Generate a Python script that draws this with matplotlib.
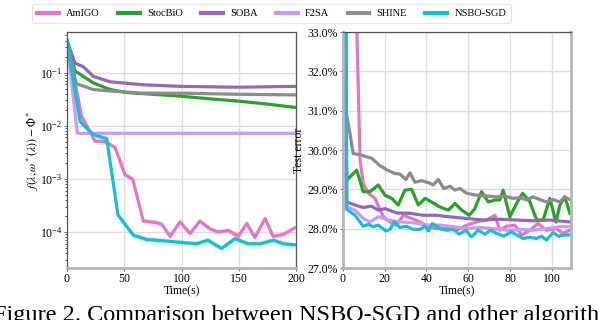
import numpy as np
import matplotlib
matplotlib.use("Agg")
import matplotlib.pyplot as plt
from matplotlib.ticker import FuncFormatter, FixedLocator, LogLocator, NullFormatter

plt.rcParams['font.family'] = ['Liberation Serif', 'DejaVu Serif']
plt.rcParams['mathtext.fontset'] = 'stix'

names = ["AmIGO", "StocBiO", "SOBA", "F2SA", "SHINE", "NSBO-SGD"]
colors = ["#e377c2", "#2ca02c", "#9467bd", "#c89bf7", "#8c8c8c", "#17becf"]

# ---- left panel: f(lambda, omega*(lambda)) - Phi* vs time ----
L_amigo_t = [0, 12.8, 24.5, 33, 42, 50.6, 57.4, 66.7, 78, 82.7, 90, 98.7, 107.4, 116, 125, 132, 141, 149.6, 157, 164, 173, 180, 189, 199]
L_amigo_v = [0.4, 0.015, 0.0051, 0.005, 0.0039, 0.0012, 0.00098, 0.00016, 0.00015, 0.00014, 0.000083, 0.000155, 0.000094, 0.00016, 0.000114, 0.0001, 0.000107, 0.000083, 0.000145, 0.000079, 0.00018, 0.000083, 0.00009, 0.00012]
L_stoc_t = [0, 7, 23, 37.6, 52, 75, 98.7, 125, 150, 175, 200]
L_stoc_v = [0.4, 0.107, 0.064, 0.048, 0.042, 0.039, 0.036, 0.032, 0.029, 0.0255, 0.022]
L_soba_t = [0, 7, 14, 23, 37.6, 66, 98.7, 150, 200]
L_soba_v = [0.4, 0.15, 0.13, 0.085, 0.067, 0.059, 0.055, 0.053, 0.055]
L_f2sa_t = [0, 9, 200]
L_f2sa_v = [0.4, 0.0072, 0.0072]
L_shine_t = [0, 8, 23, 37.6, 66, 100, 150, 200]
L_shine_v = [0.4, 0.062, 0.048, 0.045, 0.041, 0.041, 0.039, 0.038]
L_nsbo_t = [0, 11.4, 23, 34.7, 44.5, 57.9, 69.6, 78, 98.7, 113, 123, 135, 146.7, 158, 168.6, 180, 189, 200]
L_nsbo_v = [0.4, 0.012, 0.0068, 0.0057, 0.00021, 0.000087, 0.000072, 0.00007, 0.000064, 0.00006, 0.00007, 0.000049, 0.000075, 0.00006, 0.00006, 0.00007, 0.00006, 0.000057]

# ---- right panel: test error (%) vs time ----
R_amigo_t = [0, 5.0, 8.3, 9.8, 12.2, 15.4, 19.4, 22.6, 25.8, 28.9, 32.9, 36.9, 40.9, 44.8, 49.6, 54.4, 59.2, 63.9, 68.7, 72.7, 75, 78.2, 82.2, 85.4, 89.4, 93.3, 97.3, 102.1, 105.2, 108.5]
R_amigo_v = [45, 36.8, 29.74, 29.15, 28.9, 28.77, 28.3, 28.17, 28.09, 28.34, 28.26, 28.17, 28.05, 28.0, 28.03, 27.96, 28.09, 28.17, 28.22, 28.34, 27.96, 28.06, 28.09, 27.84, 27.96, 28.13, 27.96, 28.0, 27.88, 27.96]
R_stoc_t = [0, 1.9, 4.3, 6.7, 9.8, 13, 17, 20.2, 23.4, 26.5, 29.7, 32.9, 36.1, 39.3, 42.4, 46.4, 50.4, 53.6, 56.8, 60.4, 63.1, 66.3, 69.5, 72.7, 75, 76.6, 79.8, 83, 85.9, 89.4, 92.6, 95.7, 98.9, 101.8, 103.7, 106, 108.5]
R_stoc_v = [45, 29.23, 29.36, 29.49, 28.94, 28.94, 29.11, 28.85, 28.77, 28.6, 28.98, 29.0, 28.6, 28.77, 28.68, 28.55, 28.47, 28.64, 28.47, 28.34, 28.51, 28.94, 28.68, 28.73, 28.73, 28.98, 28.3, 28.64, 28.9, 28.68, 28.22, 28.22, 28.77, 28.17, 28.6, 28.81, 28.39]
R_soba_t = [0, 1.9, 5.9, 9.8, 13.8, 17, 20.2, 25.8, 32.1, 38.5, 44.8, 51.2, 59.2, 67.1, 75, 83, 91, 99, 108.5]
R_soba_v = [45, 28.68, 28.6, 28.54, 28.57, 28.47, 28.51, 28.4, 28.39, 28.34, 28.34, 28.3, 28.26, 28.22, 28.24, 28.22, 28.2, 28.22, 28.17]
R_f2sa_t = [0, 1.9, 5.9, 9.8, 13, 17, 21.8, 27.3, 33.7, 40.1, 46.4, 52.8, 59.2, 65.5, 71.9, 78.2, 84.6, 90.9, 97.3, 103.7, 108.5]
R_f2sa_v = [45, 28.56, 28.47, 28.26, 28.17, 28.3, 28.22, 28.17, 28.15, 28.09, 28.09, 28.05, 28.0, 28.03, 28.0, 27.96, 27.98, 27.96, 28.0, 28.05, 28.05]
R_shine_t = [0, 1.5, 3.2, 5, 9, 13.8, 17.8, 21.3, 25, 27.3, 30.2, 32.1, 34.5, 37.7, 40.9, 43.2, 45.6, 48.3, 51.2, 53.6, 56, 59.2, 63.9, 68.7, 73.5, 77.4, 81.4, 84.6, 87.8, 90.9, 94.1, 97.3, 100.5, 103.7, 106, 108.8]
R_shine_v = [45, 31.0, 30.51, 29.91, 29.87, 29.79, 29.6, 29.49, 29.4, 29.39, 29.25, 29.42, 29.18, 29.22, 29.17, 29.11, 29.25, 29.02, 29.08, 28.98, 29.02, 28.9, 28.85, 28.83, 28.81, 28.83, 28.77, 28.79, 28.73, 28.81, 28.74, 28.68, 28.74, 28.68, 28.81, 28.73]
R_nsbo_t = [0, 1.9, 5.9, 9.8, 12.2, 14.6, 17, 20.7, 22.6, 24.5, 27.3, 30.5, 33.7, 36.9, 39.3, 40.9, 42.9, 46.4, 49.6, 52.8, 55.6, 58.8, 61.5, 64.7, 67.9, 70.6, 73.5, 76.9, 80.6, 83, 86.2, 89.4, 92.6, 94.9, 97.3, 100.5, 102.9, 106, 108.5]
R_nsbo_v = [60, 28.49, 28.34, 28.06, 28.11, 28.05, 28.09, 27.94, 27.98, 28.17, 28.03, 28.06, 27.98, 27.98, 28.06, 27.94, 28.13, 28.0, 27.96, 27.98, 27.86, 27.96, 27.79, 27.96, 27.86, 27.96, 27.88, 27.81, 27.92, 27.84, 27.75, 27.78, 27.75, 27.81, 27.71, 27.9, 27.81, 27.84, 27.84]

caption = "Figure 2. Comparison between NSBO-SGD and other algorithms"

left_series = [(L_amigo_t, L_amigo_v), (L_stoc_t, L_stoc_v), (L_soba_t, L_soba_v),
               (L_f2sa_t, L_f2sa_v), (L_shine_t, L_shine_v), (L_nsbo_t, L_nsbo_v)]
right_series = [(R_amigo_t, R_amigo_v), (R_stoc_t, R_stoc_v), (R_soba_t, R_soba_v),
                (R_f2sa_t, R_f2sa_v), (R_shine_t, R_shine_v), (R_nsbo_t, R_nsbo_v)]

fig = plt.figure(figsize=(5.98, 3.2), dpi=100)
axL = fig.add_axes([67/598, 1-268/320, (296-67)/598, 236/320])
axR = fig.add_axes([342.7/598, 1-268/320, (571-342.7)/598, 236/320])

LW = 2.3
handles = []
for (t, v), c, n in zip(left_series, colors, names):
    h, = axL.plot(t, v, color=c, lw=LW, label=n)
    handles.append(h)
    if n in ("AmIGO", "NSBO-SGD"):
        v = np.array(v)
        axL.fill_between(t, v*0.88, v*1.14, color=c, alpha=0.2, lw=0)

for (t, v), c, n in zip(right_series, colors, names):
    axR.plot(t, v, color=c, lw=LW, label=n)

FS = 8.5
# left axis style
axL.set_yscale('log')
axL.set_xlim(0, 200)
axL.set_ylim(2.1e-5, 0.58)
axL.set_xticks([0, 50, 100, 150, 200])
axL.yaxis.set_major_locator(FixedLocator([1e-4, 1e-3, 1e-2, 1e-1]))
axL.yaxis.set_minor_locator(LogLocator(base=10, subs=np.arange(2, 10)))
axL.yaxis.set_minor_formatter(NullFormatter())
axL.set_xlabel("Time(s)", fontsize=FS, labelpad=0)
axL.set_ylabel(r"$f(\lambda,\omega^*(\lambda))-\Phi^*$", fontsize=8.5, labelpad=0)

# right axis style
axR.set_xlim(0, 109)
axR.set_ylim(27, 33)
axR.set_xticks([0, 20, 40, 60, 80, 100])
axR.set_yticks([27, 28, 29, 30, 31, 32, 33])
axR.yaxis.set_major_formatter(FuncFormatter(lambda y, p: f"{y:.1f}%"))
axR.set_xlabel("Time(s)", fontsize=FS, labelpad=0)
axR.set_ylabel("Test error", fontsize=FS, labelpad=2)

for ax in (axL, axR):
    ax.grid(True, color='#dedede', lw=1.0)
    ax.set_axisbelow(True)
    ax.tick_params(labelsize=FS, length=2, width=0.6, color='#555555', pad=1.5)
    ax.tick_params(which='minor', length=1.5, width=0.5)
    ax.spines['top'].set_color('#555555')
    ax.spines['top'].set_linewidth(0.9)
    ax.spines['bottom'].set_color('#b5b5b5')
    ax.spines['bottom'].set_linewidth(2.0)

axL.spines['left'].set_color('#555555'); axL.spines['left'].set_linewidth(0.9)
axL.spines['right'].set_color('#555555'); axL.spines['right'].set_linewidth(0.9)
axR.spines['left'].set_color('#b5b5b5'); axR.spines['left'].set_linewidth(2.0)
axR.spines['right'].set_color('#b5b5b5'); axR.spines['right'].set_linewidth(2.0)

leg = fig.legend(handles=handles, labels=names, loc='upper center', ncol=6,
                 bbox_to_anchor=(0.454, 1.003), fontsize=7.5, frameon=True,
                 handlelength=2.1, handletextpad=0.7, columnspacing=1.75,
                 borderpad=0.45, fancybox=True)
leg.get_frame().set_edgecolor('#e0e0e0')
leg.get_frame().set_linewidth(0.8)
for l in leg.get_lines():
    l.set_linewidth(3.0)

fig.text(-0.012, -1.0/320, caption, fontsize=17.5, va='baseline', ha='left')

fig.savefig("out.png", dpi=100)
